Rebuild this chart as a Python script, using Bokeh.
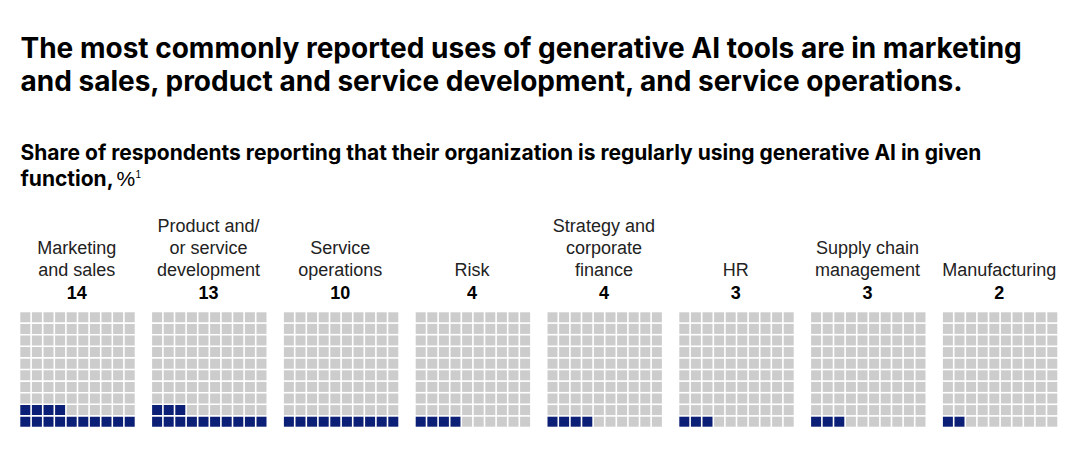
from bokeh.plotting import figure
from bokeh.models import Range1d
from bokeh.core.properties import value
from bokeh.embed import file_html
from bokeh.resources import INLINE

# ---- data ----
categories = [
    "Marketing\nand sales",
    "Product and/\nor service\ndevelopment",
    "Service\noperations",
    "Risk",
    "Strategy and\ncorporate\nfinance",
    "HR",
    "Supply chain\nmanagement",
    "Manufacturing",
]
values = [14, 13, 10, 4, 4, 3, 3, 2]

title_lines = [
    "The most commonly reported uses of generative AI tools are in marketing",
    "and sales, product and service development, and service operations.",
]
subtitle_lines = [
    "Share of respondents reporting that their organization is regularly using generative AI in given",
    "function,",
]

# ---- style / layout ----
W, H = 1085, 470
NAVY = "#0A1F75"
GRAY = "#CCCCCC"
LABEL_FONT = "Liberation Sans"
TITLE_FONT = "Inter"

grid_left0 = 19.0
grid_step = 131.8
grid_top = 311.0
pitch = 11.6
cell = 10.0


def base(y, fs):
    # shift so that the rendered alphabetic baseline lands on y
    return y - 0.36 * fs


p = figure(width=W, height=H, output_backend="svg", toolbar_location=None,
           x_range=Range1d(0, W), y_range=Range1d(H, 0), min_border=0)
p.axis.visible = False
p.grid.visible = False
p.outline_line_color = None
p.background_fill_color = "white"
p.border_fill_color = "white"

# ---- waffle cells ----
xs, ys, cols = [], [], []
for i, v in enumerate(values):
    x0 = grid_left0 + i * grid_step
    for k in range(100):
        r_from_bottom = k // 10
        c = k % 10
        xs.append(x0 + (c + 0.5) * pitch)
        ys.append(grid_top + (9 - r_from_bottom + 0.5) * pitch)
        cols.append(NAVY if k < v else GRAY)
p.rect(x=xs, y=ys, width=cell, height=cell, fill_color=cols, line_color=None)

# ---- labels ----
lx, ly, lt = [], [], []
nx, ny, nt = [], [], []
num_base = 298.0
line_h = 22.0
for i, (cat, v) in enumerate(zip(categories, values)):
    cx = grid_left0 + i * grid_step + 5 * pitch - (pitch - cell) / 2
    lines = cat.split("\n")
    for j, ln in enumerate(lines):
        lx.append(cx)
        ly.append(base(num_base - line_h * (len(lines) - j), 18))
        lt.append(ln)
    nx.append(cx)
    ny.append(base(num_base, 18))
    nt.append(str(v))

p.text(x=lx, y=ly, text=lt, text_font=value(LABEL_FONT), text_font_size=value("18px"),
       text_align="center", text_baseline="alphabetic", text_color="#222222")
p.text(x=nx, y=ny, text=nt, text_font=value(LABEL_FONT), text_font_size=value("18px"),
       text_font_style="bold", text_align="center", text_baseline="alphabetic", text_color="#000000")

# ---- title ----
p.text(x=[20, 20], y=[base(58, 28), base(91, 28)], text=title_lines, text_font=value(TITLE_FONT),
       text_font_size=value("28px"), text_font_style="bold", text_baseline="alphabetic",
       text_color="#000000")

# ---- subtitle ----
p.text(x=[20, 20], y=[base(160, 21), base(186, 21)], text=subtitle_lines, text_font=value(TITLE_FONT),
       text_font_size=value("21px"), text_font_style="bold", text_baseline="alphabetic",
       text_color="#000000")
p.text(x=[116], y=[base(186, 21)], text=["%"], text_font=value(LABEL_FONT),
       text_font_size=value("21px"), text_baseline="alphabetic", text_color="#000000")
p.text(x=[135], y=[base(177, 10)], text=["1"], text_font=value(LABEL_FONT),
       text_font_size=value("10px"), text_baseline="alphabetic", text_color="#000000")

open("out.html", "w").write(file_html(p, INLINE))
